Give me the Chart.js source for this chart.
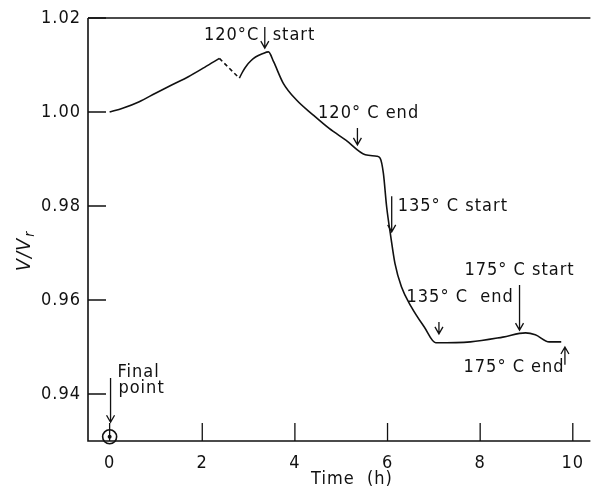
<!DOCTYPE html>
<html>
<head>
<meta charset="utf-8">
<script src="https://cdn.jsdelivr.net/npm/chart.js@4/dist/chart.umd.min.js"></script>
<style>
  html, body { margin: 0; padding: 0; background: #fff; }
  #wrap { width: 599px; height: 489px; position: relative; }
</style>
</head>
<body>
<div id="wrap"><canvas id="chart"></canvas></div>
<script>
// Time (h) and V/Vr
const riseTime = [0, 0.28, 0.64, 0.99, 1.35, 1.70, 2.05, 2.37];
const riseValue = [1.0000, 1.0008, 1.0022, 1.0040, 1.0058, 1.0075, 1.0095, 1.0114];

const gapTime = [2.37, 2.80];
const gapValue = [1.0114, 1.0072];

const mainTime = [2.80, 2.88, 2.96, 3.05, 3.15, 3.30, 3.43, 3.54, 3.75, 4.03, 4.39, 4.74, 5.10, 5.52, 5.77, 5.84,
  5.91, 5.98, 6.07, 6.16, 6.30, 6.51, 6.79, 7.04, 7.79, 8.49, 8.98, 9.19, 9.49, 9.75];
const mainValue = [1.0072, 1.0087, 1.0099, 1.0109, 1.0117, 1.0124, 1.0128, 1.0107, 1.0061, 1.0026, 0.9994, 0.9965, 0.9940, 0.9909, 0.9906, 0.9902,
  0.9870, 0.9799, 0.9735, 0.9678, 0.9628, 0.9586, 0.9543, 0.9509, 0.9511, 0.9521, 0.9530, 0.9526, 0.9511, 0.9511];

const finalTime = [0];
const finalValue = [0.9309];

const xTicks = [0, 2, 4, 6, 8, 10];
const yTicks = [0.94, 0.96, 0.98, 1.00, 1.02];

// annotations: text anchor (left/right edge, middle) and arrows (tail -> tip), in data units
const notes = [
  { text: '120\u00b0C', x: 3.23, y: 1.0164, align: 'right' },
  { text: 'start', x: 3.52, y: 1.0164, align: 'left' },
  { text: '120\u00b0 C end', x: 4.50, y: 0.9998, align: 'left' },
  { text: '135\u00b0 C start', x: 6.22, y: 0.9800, align: 'left' },
  { text: '135\u00b0 C  end', x: 6.41, y: 0.9606, align: 'left' },
  { text: '175\u00b0 C start', x: 7.66, y: 0.9664, align: 'left' },
  { text: '175\u00b0 C end', x: 7.64, y: 0.9457, align: 'left' },
  { text: 'Final', x: 0.17, y: 0.9447, align: 'left' },
  { text: 'point', x: 0.19, y: 0.9413, align: 'left' }
];
const arrows = [
  { x: 3.35, from: 1.0181, to: 1.0136 },
  { x: 5.35, from: 0.9966, to: 0.9930 },
  { x: 6.09, from: 0.9821, to: 0.9745 },
  { x: 7.11, from: 0.9553, to: 0.9528 },
  { x: 8.85, from: 0.9632, to: 0.9536 },
  { x: 9.83, from: 0.9462, to: 0.9500 },
  { x: 0.02, from: 0.9434, to: 0.9340 }
];

const toPoints = (xs, ys) => xs.map((x, i) => ({ x: x, y: ys[i] }));
const FONT = "'DejaVu Sans Condensed', 'Liberation Sans Narrow', sans-serif";
const INK = '#111';

const paperPlugin = {
  id: 'paper',
  beforeDraw(chart) {
    chart.ctx.letterSpacing = '1px';
  },
  afterDraw(chart) {
    const ctx = chart.ctx;
    const xs = chart.scales.x, ys = chart.scales.y;
    const a = chart.chartArea;
    ctx.save();
    ctx.strokeStyle = INK;
    ctx.fillStyle = INK;
    ctx.lineWidth = 1.6;
    // frame: left, bottom, top
    ctx.beginPath();
    ctx.moveTo(a.left, a.top); ctx.lineTo(a.right, a.top);
    ctx.moveTo(a.left, a.top); ctx.lineTo(a.left, a.bottom);
    ctx.lineTo(a.right, a.bottom);
    ctx.stroke();
    // inward tick marks
    ctx.lineWidth = 1.3;
    ctx.beginPath();
    yTicks.forEach(v => {
      const p = ys.getPixelForValue(v);
      ctx.moveTo(a.left, p); ctx.lineTo(a.left + 18, p);
    });
    xTicks.forEach(v => {
      const p = xs.getPixelForValue(v);
      ctx.moveTo(p, a.bottom); ctx.lineTo(p, a.bottom - 18);
    });
    ctx.stroke();
    // arrows
    arrows.forEach(ar => {
      const x = xs.getPixelForValue(ar.x);
      const y0 = ys.getPixelForValue(ar.from);
      const y1 = ys.getPixelForValue(ar.to);
      const d = y1 > y0 ? -1 : 1;
      ctx.beginPath();
      ctx.moveTo(x, y0); ctx.lineTo(x, y1);
      ctx.moveTo(x - 4, y1 + d * 7); ctx.lineTo(x, y1); ctx.lineTo(x + 4, y1 + d * 7);
      ctx.stroke();
    });
    // annotation text
    ctx.font = '18px ' + FONT;
    ctx.textBaseline = 'middle';
    notes.forEach(n => {
      ctx.textAlign = n.align;
      ctx.fillText(n.text, xs.getPixelForValue(n.x), ys.getPixelForValue(n.y));
    });
    // y axis title V/Vr
    ctx.translate(25, 250);
    ctx.rotate(-Math.PI / 2);
    ctx.font = 'italic 20px ' + FONT;
    ctx.textAlign = 'left';
    const w1 = ctx.measureText('V/V').width;
    const w2 = 9;
    ctx.fillText('V/V', -(w1 + w2) / 2, 0);
    ctx.font = 'italic 14px ' + FONT;
    ctx.fillText('r', -(w1 + w2) / 2 + w1 + 1, 5);
    ctx.restore();
    // x axis title
    ctx.save();
    ctx.font = '18px ' + FONT;
    ctx.fillStyle = INK;
    ctx.textAlign = 'center';
    ctx.textBaseline = 'middle';
    ctx.fillText('Time  (h)', 352, 479);
    ctx.restore();
  }
};

new Chart(document.getElementById('chart').getContext('2d'), {
  type: 'line',
  data: {
    datasets: [
      {
        data: toPoints(riseTime, riseValue),
        borderColor: INK, borderWidth: 1.6, pointRadius: 0,
        cubicInterpolationMode: 'monotone', fill: false
      },
      {
        data: toPoints(gapTime, gapValue),
        borderColor: INK, borderWidth: 1.6, pointRadius: 0,
        borderDash: [4, 3], fill: false
      },
      {
        data: toPoints(mainTime, mainValue),
        borderColor: INK, borderWidth: 1.6, pointRadius: 0,
        cubicInterpolationMode: 'monotone', fill: false
      },
      {
        // centre dot of the final point, drawn on top of the ring
        data: toPoints(finalTime, finalValue),
        showLine: false, pointRadius: 2, pointBorderWidth: 0,
        pointBackgroundColor: INK, clip: false, order: 0
      },
      {
        data: toPoints(finalTime, finalValue),
        showLine: false, pointRadius: 7, pointBorderWidth: 1.6,
        pointBorderColor: INK, pointBackgroundColor: '#fff', clip: false, order: 1
      }
    ]
  },
  options: {
    responsive: true,
    maintainAspectRatio: false,
    animation: false,
    events: [],
    layout: { padding: { top: 18, right: 0, left: 0, bottom: 0 } },
    plugins: { legend: { display: false }, tooltip: { enabled: false } },
    scales: {
      x: {
        type: 'linear', min: -0.467, max: 10.38,
        afterBuildTicks: s => { s.ticks = xTicks.map(v => ({ value: v })); },
        afterFit: s => { s.height = 48; },
        grid: { display: false, drawTicks: false },
        border: { display: false },
        ticks: { color: INK, font: { family: FONT, size: 18 }, padding: 12, maxRotation: 0 }
      },
      y: {
        type: 'linear', min: 0.93, max: 1.02,
        afterBuildTicks: s => { s.ticks = yTicks.map(v => ({ value: v })); },
        afterFit: s => { s.width = 88; },
        grid: { display: false, drawTicks: false },
        border: { display: false },
        ticks: { color: INK, font: { family: FONT, size: 18 }, padding: 7, callback: v => v.toFixed(2) }
      }
    }
  },
  plugins: [paperPlugin]
});
</script>
</body>
</html>
